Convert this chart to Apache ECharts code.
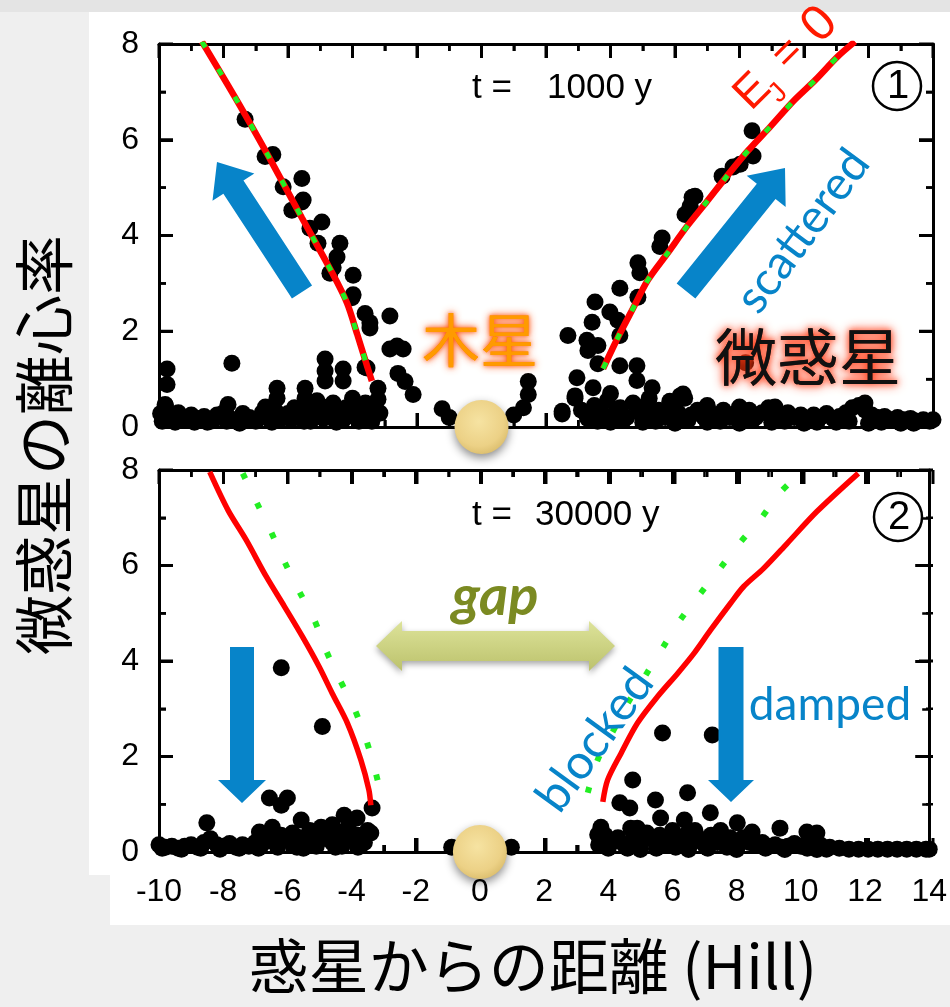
<!DOCTYPE html>
<html><head><meta charset="utf-8">
<script src="https://cdn.jsdelivr.net/npm/echarts@6/dist/echarts.min.js"></script>
<style>
html,body{margin:0;padding:0;background:#efefef}
#wrap{position:relative;width:950px;height:1007px;overflow:hidden}
.bg{position:absolute}
#c{position:absolute;left:0;top:0;width:950px;height:1007px}
</style>
</head><body><div id="wrap">
<div class="bg" style="left:0;top:0;width:950px;height:12px;background:#e4e4e4"></div>
<div class="bg" style="left:89px;top:12px;width:861px;height:863px;background:#fff"></div>
<div class="bg" style="left:110px;top:12px;width:840px;height:913px;background:#fff"></div>
<div id="c"></div></div>
<script>
// ---------- DATA ----------
const panelTimes = ['1000', '30000'];
const xRange = [-10, 14];
const yRange = [0, 8];
const xTickVals = [-10,-9,-8,-7,-6,-5,-4,-3,-2,-1,0,1,2,3,4,5,6,7,8,9,10,11,12,13,14];
const yTickVals = [0,1,2,3,4,5,6,7,8];

// Panel 1 (t = 1000 y) planetesimals
const p1Left = [[-7.33,6.43],[-6.47,5.69],[-6.71,5.65],[-5.57,5.19],[-6.15,5.02],[-5.57,4.7],[-5.88,4.53],[-4.95,4.28],[-5.32,4.15],[-4.39,3.84],[-5.07,3.84],[-4.48,3.55],[-4.6,3.33],[-3.98,3.17],[-4.7,3.21],[-4.02,2.7],[-3.61,2.37],[-2.84,2.32],[-3.46,2.18],[-3.46,2.07],[-2.62,1.69],[-2.84,1.63],[-2.43,1.63],[-2.59,1.12],[-2.37,0.95],[-2.12,0.68],[-3.55,1.23],[-3.61,1.25],[-3.21,0.81],[-3.21,0.58],[-3.15,0.29],[-7.74,1.33],[-9.75,1.21],[-9.75,0.89],[-4.85,1.42],[-4.85,1.17],[-4.85,0.96],[-4.29,1.21],[-4.29,0.96],[-6.34,0.81],[-6.34,0.6],[-5.47,0.81],[-5.47,0.6],[-7.86,0.47],[-9.81,0.47],[-3.98,2.76],[-5.53,4.74]];
const p1LeftBand = [[-9.95,0.28],[-9.8,0.45],[-9.6,0.2],[-9.4,0.3],[-9.2,0.15],[-9.0,0.25],[-8.8,0.18],[-8.6,0.22],[-8.4,0.12],[-8.2,0.25],[-8.0,0.3],[-7.8,0.18],[-7.6,0.15],[-7.4,0.28],[-7.2,0.2],[-7.0,0.12],[-6.8,0.3],[-6.6,0.22],[-6.4,0.35],[-6.2,0.18],[-6.0,0.28],[-5.8,0.4],[-5.6,0.25],[-5.4,0.35],[-5.2,0.2],[-5.0,0.45],[-4.8,0.3],[-4.6,0.5],[-4.4,0.25],[-4.2,0.4],[-4.0,0.6],[-3.8,0.35],[-3.6,0.5],[-3.5,0.2],[-3.3,0.3],[-9.5,0.1],[-8.5,0.1],[-7.5,0.08],[-6.5,0.1],[-5.5,0.12],[-4.5,0.1],[-3.8,0.12],[-9.9,0.12],[-9.3,0.14],[-8.9,0.1],[-8.3,0.16],[-7.9,0.12],[-7.3,0.14],[-6.9,0.18],[-6.3,0.14],[-5.9,0.16],[-5.3,0.12],[-4.9,0.18],[-4.3,0.14],[-3.9,0.2],[-3.4,0.12],[-6.7,0.42],[-5.1,0.55],[-4.1,0.3],[-3.7,0.25]];
const p1Center = [[-1.22,0.38],[-1.0,0.2],[1.0,0.25],[1.3,0.4],[1.45,0.95],[1.45,0.68]];
const p1Right = [[8.39,6.19],[8.42,5.66],[8.02,5.49],[7.46,5.24],[7.8,5.43],[6.62,4.82],[6.53,4.8],[6.47,4.61],[6.31,4.44],[5.6,3.95],[5.53,3.77],[4.85,3.43],[4.91,3.22],[4.29,2.9],[4.85,2.71],[3.52,2.61],[3.98,2.4],[4.23,2.23],[3.43,2.19],[2.68,1.91],[3.27,1.81],[3.61,1.7],[3.3,1.6],[4.29,1.91],[3.61,1.32],[4.29,1.28],[4.82,1.28],[2.96,1.03],[4.82,0.97],[5.29,0.82],[2.9,0.65],[3.46,0.82],[2.5,0.33],[3.27,0.23],[6.25,0.69],[5.84,0.54],[6.16,0.65],[11.89,0.5],[8.19,1.34]];
const p1RightBand = [[2.5,0.27],[2.9,0.6],[3.1,0.35],[3.3,0.17],[3.5,0.45],[3.7,0.3],[3.9,0.55],[4.1,0.25],[4.3,0.4],[4.5,0.2],[4.7,0.5],[4.9,0.3],[5.1,0.45],[5.3,0.25],[5.5,0.35],[5.7,0.2],[5.9,0.48],[6.1,0.3],[6.3,0.6],[6.5,0.25],[6.7,0.35],[6.9,0.2],[7.1,0.3],[7.3,0.22],[7.5,0.35],[7.7,0.2],[7.9,0.3],[8.1,0.25],[8.3,0.35],[8.5,0.2],[8.7,0.3],[8.9,0.4],[9.1,0.42],[9.3,0.25],[9.5,0.3],[9.7,0.2],[9.9,0.25],[10.1,0.18],[10.3,0.25],[10.5,0.2],[10.7,0.28],[10.9,0.18],[11.1,0.22],[11.3,0.3],[11.5,0.4],[11.7,0.45],[11.9,0.35],[12.1,0.25],[12.3,0.2],[12.5,0.22],[12.7,0.15],[12.9,0.2],[13.1,0.15],[13.3,0.18],[13.5,0.12],[13.7,0.15],[13.9,0.12],[14.0,0.15],[4,0.1],[5,0.1],[6,0.08],[7,0.1],[8,0.08],[9,0.1],[10,0.08],[11,0.1],[12,0.08],[13,0.08],[3.6,0.12],[4.4,0.14],[5.4,0.12],[6.4,0.14],[7.4,0.12],[8.4,0.14],[9.4,0.12],[10.4,0.1],[11.4,0.12],[12.4,0.1],[13.4,0.08],[5.2,0.6],[4.0,0.7],[7.0,0.45],[8.0,0.42]];

// Panel 1 E_J = 0 curves
const p1CurveLeft = [[-8.67,8.05],[-7.55,6.78],[-6.56,5.6],[-5.57,4.37],[-4.63,3.22],[-4.17,2.59],[-3.86,1.95],[-3.55,1.28],[-3.4,0.96]];
const p1CurveRight = [[3.77,1.22],[4.23,1.87],[4.7,2.48],[5.16,3.07],[5.78,3.64],[6.37,4.19],[6.99,4.71],[7.61,5.24],[8.26,5.77],[8.95,6.27],[9.66,6.8],[10.34,7.24],[11.05,7.74],[11.58,8.05]];

// Panel 2 (t = 30000 y) planetesimals
const p2Left = [[-6.19,3.86],[-4.91,2.63],[-6.56,1.13],[-6.0,1.13],[-6.19,0.98],[-3.36,0.92],[-8.51,0.61],[-5.57,0.67],[-4.23,0.77],[-3.83,0.71],[-6.47,0.52],[-6.87,0.42],[-4.95,0.52],[-4.6,0.57],[-3.4,0.4],[-5.84,0.4]];
const p2LeftBand = [[-10,0.15],[-9.8,0.1],[-9.6,0.12],[-9.4,0.08],[-9.2,0.12],[-9.0,0.15],[-8.8,0.1],[-8.6,0.2],[-8.4,0.28],[-8.2,0.15],[-8.0,0.12],[-7.8,0.18],[-7.6,0.1],[-7.4,0.15],[-7.2,0.12],[-7.0,0.2],[-6.8,0.15],[-6.6,0.3],[-6.4,0.2],[-6.2,0.35],[-6.0,0.25],[-5.8,0.15],[-5.6,0.3],[-5.4,0.2],[-5.2,0.35],[-5.0,0.25],[-4.8,0.4],[-4.6,0.2],[-4.4,0.3],[-4.2,0.45],[-4.0,0.25],[-3.8,0.35],[-3.6,0.2],[-3.5,0.45],[-5.5,0.08],[-4.5,0.1],[-3.8,0.1],[-9.9,0.08],[-9.3,0.06],[-8.7,0.08],[-8.1,0.06],[-7.5,0.08],[-6.9,0.08],[-6.3,0.1],[-5.7,0.1],[-5.1,0.12],[-4.3,0.12],[-3.7,0.15],[-4.9,0.3],[-5.3,0.45],[-4.1,0.5]];
const p2Center = [[-0.88,0.1],[0.98,0.1]];
const p2Right = [[5.69,2.49],[7.24,2.45],[4.76,1.51],[6.47,1.24],[5.47,1.09],[4.36,1.03],[4.67,0.92],[7.18,0.82],[3.77,0.52],[5.63,0.71],[6.37,0.67],[8.02,0.61],[9.35,0.5],[8.48,0.42],[10.19,0.42],[10.5,0.4],[3.67,0.36],[4.7,0.5]];
const p2RightBand = [[3.7,0.15],[3.9,0.35],[4.1,0.2],[4.3,0.3],[4.5,0.15],[4.8,0.35],[5.0,0.2],[5.2,0.4],[5.4,0.25],[5.6,0.35],[5.8,0.15],[6.0,0.45],[6.2,0.25],[6.4,0.35],[6.6,0.2],[6.8,0.3],[7.0,0.15],[7.2,0.35],[7.4,0.2],[7.6,0.25],[7.8,0.3],[8.0,0.15],[8.2,0.3],[8.4,0.2],[8.6,0.15],[8.8,0.2],[9.0,0.12],[9.2,0.15],[9.6,0.12],[9.8,0.18],[10.0,0.12],[10.3,0.2],[10.6,0.15],[10.9,0.1],[11.2,0.08],[11.5,0.06],[11.8,0.06],[12.1,0.06],[12.4,0.06],[12.7,0.06],[13.0,0.06],[13.3,0.06],[13.6,0.06],[13.9,0.06],[14.0,0.06],[5,0.05],[6.5,0.05],[8,0.05],[9.5,0.05],[10.5,0.05],[4.0,0.08],[4.6,0.08],[5.5,0.08],[6.1,0.1],[7.1,0.08],[7.7,0.1],[8.9,0.08],[9.4,0.1],[10.2,0.08],[10.8,0.06],[4.9,0.5],[6.7,0.45],[7.5,0.45]];

// Panel 2 curves: red = current E_J=0, green dotted = initial
const p2RedLeft = [[-8.42,7.96],[-7.85,7.16],[-7.28,6.53],[-6.66,5.77],[-6.09,5.14],[-5.53,4.51],[-5.01,3.88],[-4.6,3.32],[-4.13,2.7],[-3.71,1.93],[-3.46,1.3],[-3.4,0.98]];
const p2GreenLeft = [[-7.39,7.93],[-6.97,7.34],[-6.51,6.71],[-6.09,6.08],[-5.63,5.46],[-5.16,4.86],[-4.8,4.23],[-4.39,3.64],[-3.92,3.01],[-3.56,2.38],[-3.27,1.72],[-3.04,1.09]];
const p2RedRight = [[3.83,1.05],[3.98,1.51],[4.4,2.07],[4.91,2.7],[5.53,3.25],[6.16,3.74],[6.67,4.16],[7.19,4.65],[7.81,5.21],[8.22,5.56],[8.84,5.94],[9.57,6.46],[10.5,7.13],[11.79,7.93]];
const p2GreenRight = [[3.36,1.24],[3.67,1.93],[4.14,2.52],[4.6,3.11],[5.17,3.71],[5.69,4.27],[6.2,4.82],[6.83,5.38],[7.45,5.91],[8.07,6.45],[8.74,6.97],[9.36,7.53],[10.03,7.96]];

const planet = [[0, 0]];

(function () {
  const chart = echarts.init(document.getElementById('c'));
  const LAT = 'Liberation Sans, Arial, sans-serif';
  const CJK = 'Noto Sans CJK JP';
  const BLUE = '#0784c9';
  const GRIDS = [{left: 159, top: 44, width: 774, height: 383}, {left: 159, top: 470, width: 774, height: 382}];

  function mkAxis(grid, pos, labels, isX) {
    return {type: 'value', gridIndex: grid, position: pos,
      min: isX ? xRange[0] : yRange[0], max: isX ? xRange[1] : yRange[1], interval: 2,
      axisLine: {show: true, onZero: false, lineStyle: {color: '#000', width: 3}},
      axisTick: {show: true, inside: true, length: 14, lineStyle: {color: '#000', width: 3}},
      minorTick: {show: true, splitNumber: 2, length: 7, lineStyle: {color: '#000', width: 2.5}},
      axisLabel: {show: labels, color: '#000', fontSize: 32, margin: isX ? 24 : 20},
      splitLine: {show: false}};
  }
  function mkPts(data, xi, yi) {
    return {type: 'scatter', xAxisIndex: xi, yAxisIndex: yi, data: data, symbolSize: 17, clip: false,
      itemStyle: {color: '#000', opacity: 1}, z: 6, animation: false};
  }
  function mkLine(data, xi, yi, color, width, dash, z) {
    return {type: 'line', xAxisIndex: xi, yAxisIndex: yi, data: data, showSymbol: false, smooth: 0.3, clip: true,
      lineStyle: {color: color, width: width, type: dash || 'solid', cap: 'butt'}, z: z, animation: false};
  }
  function mkPlanet(xi, yi) {
    return {type: 'scatter', xAxisIndex: xi, yAxisIndex: yi, data: planet, symbolSize: 54, clip: false, z: 20,
      itemStyle: {opacity: 1, color: {type: 'radial', x: 0.45, y: 0.4, r: 0.65, colorStops: [{offset: 0, color: '#f6e3a2'}, {offset: 0.7, color: '#ecd186'}, {offset: 1, color: '#d9bb6a'}]},
        shadowBlur: 10, shadowColor: 'rgba(0,0,0,0.45)', shadowOffsetY: 4}, animation: false};
  }
  function arrowPts(x1, y1, x2, y2, sw, hw, hl) {
    const dx = x2 - x1, dy = y2 - y1, L = Math.hypot(dx, dy), ux = dx / L, uy = dy / L, nx = -uy, ny = ux;
    const bx = x2 - ux * hl, by = y2 - uy * hl;
    return [[x1 + nx * sw / 2, y1 + ny * sw / 2], [bx + nx * sw / 2, by + ny * sw / 2], [bx + nx * hw / 2, by + ny * hw / 2], [x2, y2],
      [bx - nx * hw / 2, by - ny * hw / 2], [bx - nx * sw / 2, by - ny * sw / 2], [x1 - nx * sw / 2, y1 - ny * sw / 2]];
  }
  function mkArrow(x1, y1, x2, y2, sw, hw, hl) {
    return {type: 'polygon', z: 60, shape: {points: arrowPts(x1, y1, x2, y2, sw, hw, hl)}, style: {fill: BLUE}};
  }
  function mkTxt(x, y, text, size, fill, family, extra, rot) {
    return {type: 'text', x: x, y: y, rotation: rot || 0, z: 70,
      style: Object.assign({text: text, fontSize: size, fontFamily: family, fill: fill, align: 'center', verticalAlign: 'middle'}, extra || {})};
  }
  function mkCircled(x, y, num) {
    return [{type: 'circle', z: 70, shape: {cx: x, cy: y, r: 24}, style: {fill: '#fff', stroke: '#000', lineWidth: 2.5}},
      mkTxt(x + 1, y + 1, num, 40, '#000', LAT)];
  }

  // inward tick marks on all four sides of each panel (axis furniture, below the planet)
  const tickEls = [];
  function addTick(x, y, w, h) {
    tickEls.push({type: 'rect', z: 2, silent: true, shape: {x: x, y: y, width: w, height: h}, style: {fill: '#000'}});
  }
  GRIDS.forEach(function (g) {
    xTickVals.forEach(function (v) {
      const major = v % 2 === 0, len = major ? 14 : 7, w = major ? 3 : 2.5;
      const px = g.left + (v - xRange[0]) / (xRange[1] - xRange[0]) * g.width;
      addTick(px - w / 2, g.top + g.height - len, w, len);
      addTick(px - w / 2, g.top, w, len);
    });
    yTickVals.forEach(function (v) {
      const major = v % 2 === 0, len = major ? 14 : 7, w = major ? 3 : 2.5;
      const py = g.top + g.height - (v - yRange[0]) / (yRange[1] - yRange[0]) * g.height;
      addTick(g.left, py - w / 2, len, w);
      addTick(g.left + g.width - len, py - w / 2, len, w);
    });
  });

  const graphics = [
    mkTxt(44, 445, '微惑星の離心率', 60, '#000', CJK, null, Math.PI / 2),
    mkTxt(533, 966, '惑星からの距離 (Hill)', 60, '#000', CJK),
    mkTxt(472, 88, 't =', 35, '#000', LAT, {align: 'left'}),
    mkTxt(547, 88, panelTimes[0] + ' y', 35, '#000', LAT, {align: 'left'}),
    mkTxt(472, 515, 't =', 35, '#000', LAT, {align: 'left'}),
    mkTxt(535, 515, panelTimes[1] + ' y', 35, '#000', LAT, {align: 'left'}),
    ...mkCircled(897, 86, '1'),
    ...mkCircled(898, 517, '2'),
    {type: 'group', x: 753, y: 92, rotation: Math.PI / 4, z: 70, children: [
      {type: 'text', x: 0, y: 0, z: 70, style: {text: 'E', fontSize: 46, fontFamily: LAT, fill: '#ff1a00', align: 'center', verticalAlign: 'middle'}},
      {type: 'text', x: 17, y: 19, z: 70, style: {text: 'J', fontSize: 28, fontFamily: LAT, fill: '#ff1a00', align: 'center', verticalAlign: 'middle'}},
      {type: 'text', x: 52, y: -2, z: 70, style: {text: '=', fontSize: 44, fontFamily: LAT, fill: '#ff1a00', align: 'center', verticalAlign: 'middle'}},
      {type: 'text', x: 95, y: 0, z: 70, style: {text: '0', fontSize: 50, fontFamily: LAT, fill: '#ff1a00', align: 'center', verticalAlign: 'middle'}}
    ]},
    mkArrow(302, 292, 217, 162, 24, 50, 30),
    mkArrow(686, 291, 785, 168, 24, 50, 30),
    mkTxt(803, 231, 'scattered', 47, BLUE, 'Lato', null, 53.4 * Math.PI / 180),
    mkTxt(480, 340, '木星', 58, '#ff9a00', CJK, {textShadowBlur: 8, textShadowColor: 'rgba(255,60,0,0.9)'}),
    mkTxt(480, 340, '木星', 58, '#ff9a00', CJK, {textShadowBlur: 4, textShadowColor: 'rgba(255,80,0,0.8)'}),
    mkTxt(808, 357, '微惑星', 62, '#111', CJK, {textShadowBlur: 12, textShadowColor: 'rgba(255,40,0,1)'}),
    mkTxt(808, 357, '微惑星', 62, '#111', CJK, {textShadowBlur: 6, textShadowColor: 'rgba(255,60,20,0.9)'}),
    {type: 'polygon', z: 60, shape: {points: [[376, 646], [402, 621], [402, 631], [589, 631], [589, 621], [615, 646], [589, 671], [589, 661], [402, 661], [402, 671]]},
      style: {fill: {type: 'linear', x: 0, y: 0, x2: 0, y2: 1, colorStops: [{offset: 0, color: '#dde39a'}, {offset: 1, color: '#bcc26c'}]},
        shadowBlur: 6, shadowColor: 'rgba(0,0,0,0.35)', shadowOffsetY: 3}},
    mkTxt(495, 597, 'gap', 56, '#7b8a22', 'Lato', {fontStyle: 'italic', fontWeight: 'bold'}),
    mkArrow(242, 647, 242, 803, 24, 48, 23),
    mkArrow(731, 647, 731, 802, 25, 46, 22),
    mkTxt(830, 705, 'damped', 46, BLUE, 'Lato'),
    mkTxt(595, 740, 'blocked', 48, BLUE, 'Lato', null, 54 * Math.PI / 180)
  ];

  chart.setOption({
    animation: false,
    backgroundColor: 'transparent',
    grid: GRIDS,
    xAxis: [mkAxis(0, 'bottom', false, true), mkAxis(0, 'top', false, true), mkAxis(1, 'bottom', true, true), mkAxis(1, 'top', false, true)],
    yAxis: [mkAxis(0, 'left', true, false), mkAxis(0, 'right', false, false), mkAxis(1, 'left', true, false), mkAxis(1, 'right', false, false)],
    series: [
      mkPts(p1LeftBand, 0, 0), mkPts(p1Left, 0, 0), mkPts(p1Center, 0, 0), mkPts(p1RightBand, 0, 0), mkPts(p1Right, 0, 0),
      mkLine(p1CurveLeft, 0, 0, '#ff0000', 6.5, 'solid', 8),
      mkLine(p1CurveLeft, 0, 0, '#22ee22', 5, [7, 25], 9),
      mkLine(p1CurveRight, 0, 0, '#ff0000', 6.5, 'solid', 8),
      mkLine(p1CurveRight, 0, 0, '#22ee22', 5, [7, 25], 9),
      mkPlanet(0, 0),
      mkPts(p2LeftBand, 2, 2), mkPts(p2Left, 2, 2), mkPts(p2Center, 2, 2), mkPts(p2RightBand, 2, 2), mkPts(p2Right, 2, 2),
      mkLine(p2RedLeft, 2, 2, '#ff0000', 5.5, 'solid', 8),
      mkLine(p2GreenLeft, 2, 2, '#22ee22', 6, [6, 27], 7),
      mkLine(p2RedRight, 2, 2, '#ff0000', 5.5, 'solid', 8),
      mkLine(p2GreenRight, 2, 2, '#22ee22', 6, [6, 27], 7),
      mkPlanet(2, 2)
    ],
    graphic: tickEls.concat(graphics)
  });
})();
</script></body></html>
